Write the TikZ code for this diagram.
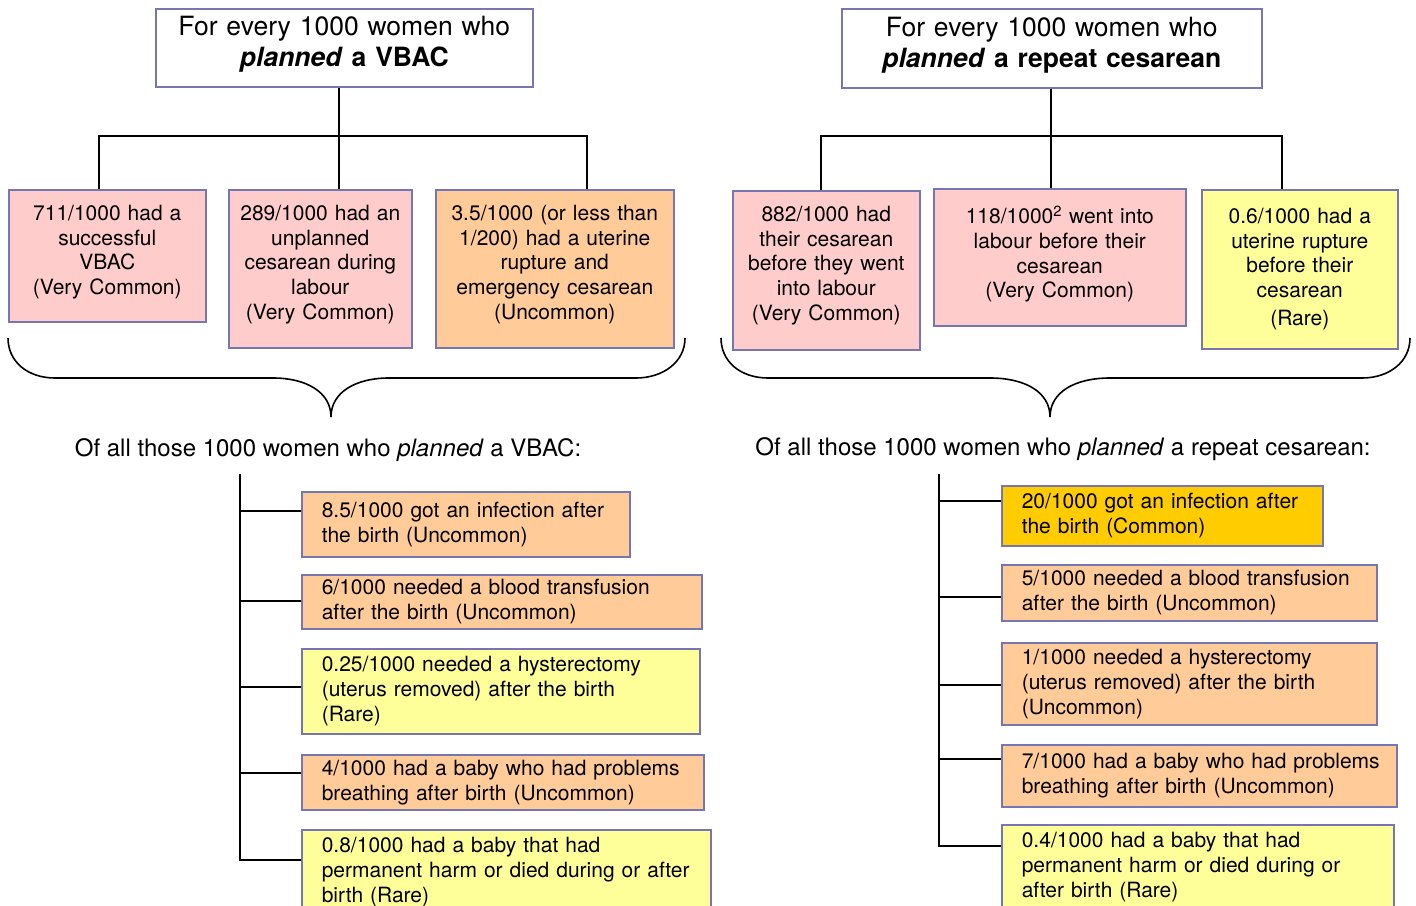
\documentclass[tikz,border=0pt]{standalone}
\usepackage{fontspec}
\setmainfont{TeX Gyre Heros}
\usetikzlibrary{calc}
\definecolor{bordc}{RGB}{118,118,178}
\definecolor{pinkc}{RGB}{255,204,204}
\definecolor{orangec}{RGB}{255,204,153}
\definecolor{yellowc}{RGB}{255,255,153}
\definecolor{goldc}{RGB}{255,204,0}
\newcommand\mydrop[1]{\rule[-#1]{0pt}{#1}}
\tikzset{
 box/.style={draw=bordc, line width=1.6pt, rectangle, anchor=north west, inner sep=0pt},
 head/.style={box, fill=white, align=center, font=\fontsize{26.5}{31}\selectfont},
 topbox/.style={box, align=center, font=\fontsize{21}{24.7}\selectfont},
 lowbox/.style={box, align=left, inner xsep=20pt, font=\fontsize{21}{25}\selectfont},
 conn/.style={draw=black, line width=2pt},
 brace/.style={draw=black, line width=1.6pt},
 lbl/.style={inner sep=0pt, font=\fontsize{24}{28}\selectfont},
}
\begin{document}
\begin{tikzpicture}[x=1pt,y=-1pt]
\fill[white] (0,0) rectangle (1416,905);
\useasboundingbox (0,0) rectangle (1416,905);

% headers
\node[head, minimum width=377pt, minimum height=78pt, text width=370pt] (hL) at (155,8)
  {For every 1000 women who\\\textbf{\textit{planned} a VBAC}\mydrop{12pt}};
\node[head, minimum width=420pt, minimum height=79pt, text width=410pt] (hR) at (841,8)
  {For every 1000 women who\\\textbf{\textit{planned} a repeat cesarean}\mydrop{12pt}};

% top boxes left
\node[topbox, fill=pinkc, minimum width=197pt, minimum height=132pt, text width=190pt] (bA) at (8,189)
  {\mbox{711/1000 had a}\\successful\\VBAC\\\mbox{(Very Common)}\mydrop{12pt}};
\node[topbox, fill=pinkc, minimum width=183pt, minimum height=158pt, text width=176pt] (bB) at (228,189)
  {\mbox{289/1000 had an}\\unplanned\\\mbox{cesarean during}\\labour\\\mbox{(Very Common)}\mydrop{13pt}};
\node[topbox, fill=orangec, minimum width=238pt, minimum height=158pt, text width=230pt] (bC) at (435,189)
  {\mbox{3.5/1000 (or less than}\\\mbox{1/200) had a uterine}\\rupture and\\\mbox{emergency cesarean}\\(Uncommon)\mydrop{13pt}};

% top boxes right
\node[topbox, fill=pinkc, minimum width=187pt, minimum height=159pt, text width=180pt] (bD) at (732,190)
  {\mbox{882/1000 had}\\\mbox{their cesarean}\\\mbox{before they went}\\into labour\\\mbox{(Very Common)}\mydrop{14pt}};
\node[topbox, fill=pinkc, minimum width=252pt, minimum height=137pt, text width=244pt] (bE) at (933,188)
  {\mbox{118/1000\textsuperscript{2} went into}\\\mbox{labour before their}\\cesarean\\\mbox{(Very Common)}\mydrop{11pt}};
\node[topbox, fill=yellowc, minimum width=196pt, minimum height=159pt, text width=188pt] (bF) at (1201,189)
  {\mbox{0.6/1000 had a}\\\mbox{uterine rupture}\\\mbox{before their}\\cesarean\\[3pt](Rare)\mydrop{5pt}};

% connectors top left
\coordinate (jA) at (99,136);
\coordinate (jB) at (339,136);
\coordinate (jC) at (587,136);
\draw[conn] (hL.south -| jB) -- (jB |- bB.north);
\draw[conn] (jA |- bA.north) -- (jA) -- (jC) -- (jC |- bC.north);
% connectors top right
\coordinate (jD) at (821,136);
\coordinate (jE) at (1051,136);
\coordinate (jF) at (1282,136);
\draw[conn] (hR.south -| jE) -- (jE |- bE.north);
\draw[conn] (jD |- bD.north) -- (jD) -- (jF) -- (jF |- bF.north);

% braces
\draw[brace] (8,338) .. controls (8,362) and (28,378) .. (55,378) -- (273,378)
  .. controls (306,378) and (331,392) .. (331,417)
  .. controls (331,392) and (356,378) .. (389,378) -- (636,378)
  .. controls (663,378) and (685,362) .. (685,338);
\draw[brace] (721,338) .. controls (721,362) and (741,378) .. (768,378) -- (990,378)
  .. controls (1025,378) and (1050,392) .. (1050,417)
  .. controls (1050,392) and (1075,378) .. (1110,378) -- (1362,378)
  .. controls (1389,378) and (1410,362) .. (1410,338);

% labels
\node[lbl] (lL) at (328,450) {Of all those 1000 women who \textit{planned} a VBAC:};
\node[lbl] (lR) at (1063,449) {Of all those 1000 women who \textit{planned} a repeat cesarean:};

% bottom left boxes
\node[lowbox, fill=orangec, minimum width=328pt, minimum height=65pt, text width=288pt] (l1) at (301,491)
  {\mbox{8.5/1000 got an infection after}\\\mbox{the birth (Uncommon)}};
\node[lowbox, fill=orangec, minimum width=400pt, minimum height=54pt, text width=360pt] (l2) at (301,574)
  {\mbox{6/1000 needed a blood transfusion}\\\mbox{after the birth (Uncommon)}};
\node[lowbox, fill=yellowc, minimum width=398pt, minimum height=85pt, text width=358pt] (l3) at (301,648)
  {\mbox{0.25/1000 needed a hysterectomy}\\\mbox{(uterus removed) after the birth}\\(Rare)};
\node[lowbox, fill=orangec, minimum width=402pt, minimum height=55pt, text width=362pt] (l4) at (301,754)
  {\mbox{4/1000 had a baby who had problems}\\\mbox{breathing after birth (Uncommon)}};
\node[lowbox, fill=yellowc, minimum width=409pt, minimum height=85pt, text width=369pt] (l5) at (301,829)
  {\mbox{0.8/1000 had a baby that had}\\\mbox{permanent harm or died during or after}\\\mbox{birth (Rare)}};

% bottom right boxes
\node[lowbox, fill=goldc, minimum width=321pt, minimum height=60pt, text width=281pt] (r1) at (1001,485)
  {\mbox{20/1000 got an infection after}\\\mbox{the birth (Common)}};
\node[lowbox, fill=orangec, minimum width=375pt, minimum height=56pt, text width=335pt] (r2) at (1001,564)
  {\mbox{5/1000 needed a blood transfusion}\\\mbox{after the birth (Uncommon)}};
\node[lowbox, fill=orangec, minimum width=375pt, minimum height=82pt, text width=335pt] (r3) at (1001,642)
  {\mbox{1/1000 needed a hysterectomy}\\\mbox{(uterus removed) after the birth}\\(Uncommon)};
\node[lowbox, fill=orangec, minimum width=395pt, minimum height=62pt, text width=355pt] (r4) at (1001,744)
  {\mbox{7/1000 had a baby who had problems}\\\mbox{breathing after birth (Uncommon)}};
\node[lowbox, fill=yellowc, minimum width=392pt, minimum height=85pt, text width=352pt] (r5) at (1001,824)
  {\mbox{0.4/1000 had a baby that had}\\\mbox{permanent harm or died during or}\\\mbox{after birth (Rare)}};

% bottom left tree
\coordinate (tL) at (240,474);
\draw[conn] (tL) |- ($(l5.west)+(0,-12.5)$);
\draw[conn] ($(l1.west)+(0,-13.5)$) -- ++(-61,0);
\draw[conn] ($(l2.west)+(0,-1)$) -- ++(-61,0);
\draw[conn] ($(l3.west)+(0,-4.5)$) -- ++(-61,0);
\draw[conn] ($(l4.west)+(0,-9.5)$) -- ++(-61,0);
% bottom right tree
\coordinate (tR) at (939,474);
\draw[conn] (tR) |- ($(r5.west)+(0,-21.5)$);
\draw[conn] ($(r1.west)+(0,-15)$) -- ++(-62,0);
\draw[conn] ($(r2.west)+(0,4)$) -- ++(-62,0);
\draw[conn] ($(r3.west)+(0,1)$) -- ++(-62,0);
\draw[conn] ($(r4.west)+(0,-17)$) -- ++(-62,0);
\end{tikzpicture}
\end{document}
